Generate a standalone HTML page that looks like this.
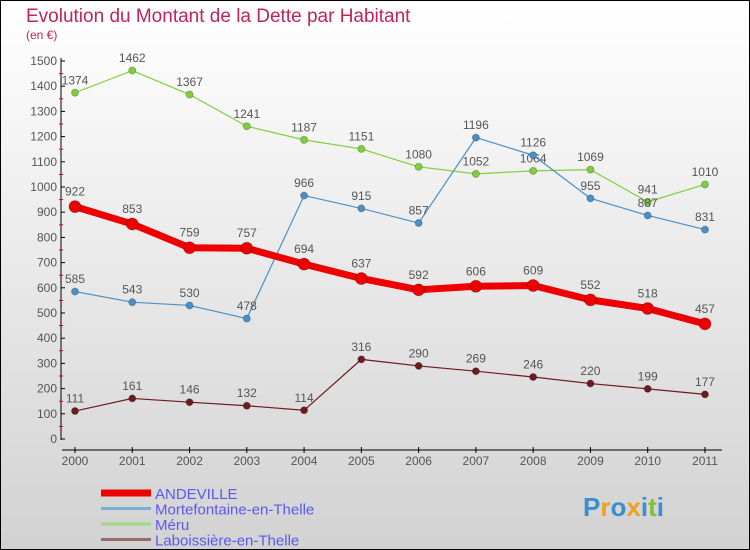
<!DOCTYPE html>
<html><head><meta charset="utf-8"><style>
body{margin:0}
#c{width:750px;height:550px;position:relative;box-sizing:border-box;border:1px solid #000;background:linear-gradient(#ffffff,#d2d2d2);font-family:"Liberation Sans",sans-serif;overflow:hidden}
</style></head><body>
<div id="c">
<svg id="s" width="750" height="550" style="position:absolute;left:-1px;top:-1px">
<text x="26" y="22" font-size="19" fill="#c0245c">Evolution du Montant de la Dette par Habitant</text>
<text x="26" y="39" font-size="12" fill="#c0245c">(en €)</text>
</svg>
</div>
<script>
const years=["2000","2001","2002","2003","2004","2005","2006","2007","2008","2009","2010","2011"];
const yTicks=[0,100,200,300,400,500,600,700,800,900,1000,1100,1200,1300,1400,1500];
const andeville=[922,853,759,757,694,637,592,606,609,552,518,457];
const mortefontaine=[585,543,530,478,966,915,857,1196,1126,955,887,831];
const meru=[1374,1462,1367,1241,1187,1151,1080,1052,1064,1069,941,1010];
const laboissiere=[111,161,146,132,114,316,290,269,246,220,199,177];
const seriesNames=["ANDEVILLE","Mortefontaine-en-Thelle","Méru","Laboissière-en-Thelle"];
const s=document.getElementById('s');
const NS='http://www.w3.org/2000/svg';
function X(i){return 75+i*57.27;}
function Y(v){return 439-v*0.252;}
function mk(t,a,p){const e=document.createElementNS(NS,t);for(const k in a)e.setAttribute(k,a[k]);(p||s).appendChild(e);return e;}
// axes
let ax=mk('line',{x1:61,y1:58,x2:61,y2:440,stroke:'#000','stroke-width':1});


yTicks.forEach((v,i)=>{
 mk('line',{x1:61,x2:65,y1:Y(v),y2:Y(v),stroke:'#000'});
 if(i<yTicks.length-1) mk('line',{x1:59,x2:63,y1:Y(v+50),y2:Y(v+50),stroke:'#e00'});
 const t=mk('text',{x:57,y:Y(v)+4,'font-size':12,fill:'#555','text-anchor':'end'});t.textContent=v;
 
 
});
let xa=mk('line',{x1:62,y1:450,x2:722,y2:450,stroke:'#000'});


years.forEach((y,i)=>{
 mk('line',{x1:X(i),x2:X(i),y1:447,y2:453,stroke:'#000'});
 const t=mk('text',{x:X(i),y:465,'font-size':12,fill:'#555','text-anchor':'middle'});t.textContent=y;
 
 
});
function series(data,color,w,r,name,labelAbove){
 const g=mk('g',{});
 
 
 mk('polyline',{points:data.map((v,i)=>X(i)+','+Y(v)).join(' '),fill:'none',stroke:color,'stroke-width':w,'stroke-linejoin':'round'},g);
 data.forEach((v,i)=>{
  const c=mk('circle',{cx:X(i),cy:Y(v),r:r,fill:color,stroke:'rgba(0,0,0,0.25)','stroke-width':1},g);
  
  
  const t=mk('text',{x:X(i),y:Y(v)-(r+5),'font-size':12,fill:'#555','text-anchor':'middle'},g);t.textContent=v;
 });
}
series(laboissiere,'#6e1a1e',1.2,3.5,'series-laboissiere');
series(meru,'#7fd13b',1.2,3.5,'series-meru');
series(mortefontaine,'#4a90c8',1.2,3.5,'series-mortefontaine');
series(andeville,'#ee0000',7,6,'series-andeville');
// legend
const lc=['#ee0000','#7aaedb','#9edb7e','#9a6a6a'];
const lw=[7,3,3,3];
seriesNames.forEach((n,i)=>{
 const y=493+i*15.5;
 const g=mk('g',{});
 
 
 mk('line',{x1:101,x2:151,y1:y,y2:y,stroke:lc[i],'stroke-width':lw[i]},g);
 const t=mk('text',{x:155,y:y+6,'font-size':15,fill:'#5a5af0'},g);t.textContent=n;
});
// logo
const lg=mk('text',{x:583,y:516,'font-size':26,'font-weight':'bold',fill:'#3a8fd0'});


[['P','#3a8fd0'],['r','#f0a020'],['o','#3a8fd0'],['x','#f0a020'],['i','#3a8fd0'],['t','#80c030'],['i','#3a8fd0']].forEach(([c,f])=>{const ts=mk('tspan',{fill:f},lg);ts.textContent=c;});
</script>
</body></html>
